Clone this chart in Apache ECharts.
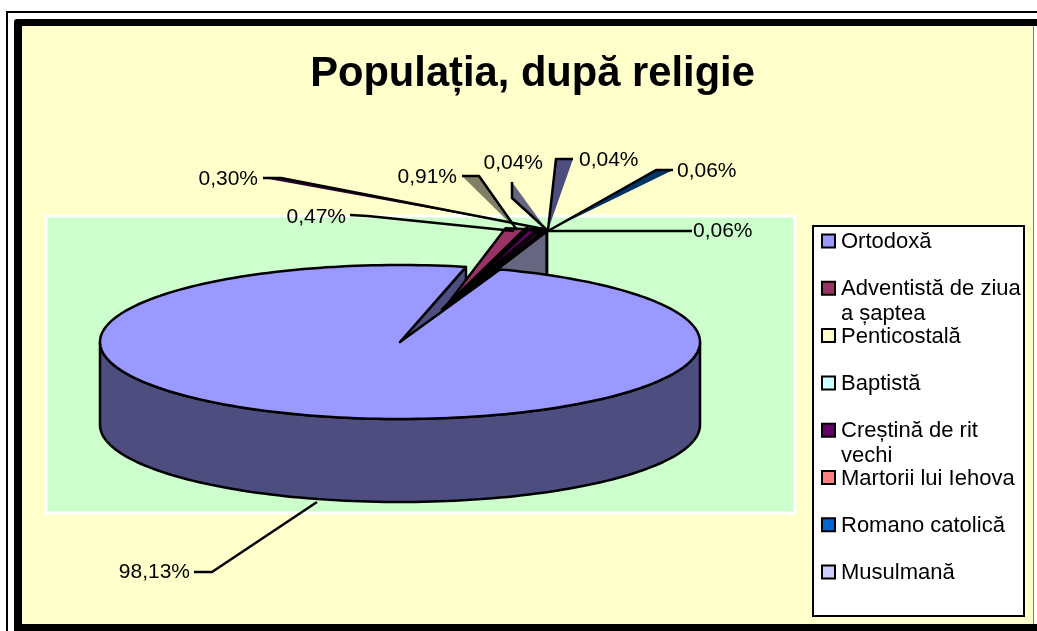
<!DOCTYPE html>
<html>
<head>
<meta charset="utf-8">
<style>html,body{margin:0;padding:0;background:#fff}#c{width:1037px;height:631px}</style>
<script src="https://cdn.jsdelivr.net/npm/echarts@6/dist/echarts.min.js"></script>
</head>
<body>
<div id="c"></div>
<script>
const title = 'Populația, după religie';
const categories = ['Ortodoxă','Adventistă de ziua\na șaptea','Penticostală','Baptistă','Creștină de rit\nvechi','Martorii lui Iehova','Romano catolică','Musulmană'];
const values = [98.13,0.91,0.04,0.06,0.47,0.30,0.06,0.04];
const colors = ['#9999FF','#993366','#FFFFCC','#CCFFFF','#660066','#FF8080','#0066CC','#CCCCFF'];
const sideColors = ['#4D4D80','#4D1A33','#808066','#668080','#330033','#804040','#003366','#666680'];

// layout of the 3D pie, in page pixels
const pie = {cx:400, cy:342, rx:300, ry:77, depth:83, endAngle:12.7};
const burst = {cx:443, cy:310, rx:360, ry:83, shift:-2.7};
// leader line routes [label end ... slice end] with optional filled sliver, and label anchors
const leaders = [
  {pts:[[194,572],[212,572],[317,502]], tx:190, ty:572, al:'right'},
  {pts:[[462,176],[479,176],[517,230]], fill:'#808066', tx:457, ty:177, al:'right'},
  {pts:[[573,159],[556,159],[548,230]], fill:'#4D4D80', tx:579, ty:160, al:'left'},
  {pts:[[692,231],[672,231],[548,231]], tx:693, ty:231, al:'left'},
  {pts:[[350,215],[368,216],[514,231]], tx:346, ty:217, al:'right'},
  {pts:[[263,178],[281,178],[544,229]], fill:'#330033', tx:258, ty:179, al:'right'},
  {pts:[[673,170],[656,170],[548,231]], fill:'#003366', tx:677, ty:171, al:'left'},
  {pts:[[512,182],[512,198],[546,229]], fill:'#666680', tx:543, ty:163, al:'right'}
];
const legendLayout = {x:822, y0:242, step:47.3, box:15, textX:841, lineHeight:25};

const total = values.reduce((a,b)=>a+b,0);
const rad = d => d*Math.PI/180;
function rimAngles(){
  // clockwise from the top of the ellipse; the first slice ends at pie.endAngle
  const out=[]; let a = pie.endAngle - values[0]/total*360;
  values.forEach(v=>{const s=v/total*360; out.push([a,a+s]); a+=s;});
  return out;
}
const angles = rimAngles();
const onRim = (e,d,dy=0)=>[e.cx+e.rx*Math.sin(rad(d)), e.cy-e.ry*Math.cos(rad(d))+dy];
function arc(e,a,b,dy=0){
  const pts=[], n=Math.max(2,Math.ceil(Math.abs(b-a)/1.5));
  for(let i=0;i<=n;i++) pts.push(onRim(e,a+(b-a)*i/n,dy));
  return pts;
}
const poly = (points,fill,z2,lw)=>({type:'polygon',z2,shape:{points},style:Object.assign({fill},lw?{stroke:'#000',lineWidth:lw,lineJoin:'round'}:{})});
const line = (points,z2)=>({type:'polyline',z2,shape:{points},style:{fill:'none',stroke:'#000',lineWidth:2.5,lineJoin:'round'}});

function renderSlice(params, api){
  const i = params.dataIndex;
  const [a,b] = angles[i];
  const kids = [];
  if(i===0){
    const top=[[pie.cx,pie.cy]].concat(arc(pie,a,b));
    const e=onRim(pie,b);
    kids.push(poly([[pie.cx,pie.cy],e,[e[0],e[1]+pie.depth],[pie.cx,pie.cy+pie.depth]], sideColors[0], 1, 2.5));
    kids.push(poly(arc(pie,90,270).concat(arc(pie,270,90,pie.depth)), sideColors[0], 2, 2.5));
    kids.push(poly(top, colors[0], 30, 2.5));
  } else {
    const ba=a+burst.shift, bb=b+burst.shift;
    const apex=[burst.cx,burst.cy];
    kids.push(poly([apex].concat(arc(burst,ba,bb)), colors[i], i===7?23:5+i, i===1?2.5:4));
    if(i===4||i===7){
      const r=onRim(burst,bb);
      kids.push(poly([apex,r,[r[0],r[1]+pie.depth],[apex[0],apex[1]+pie.depth]], sideColors[i], i===7?22:20, 3));
    }
  }
  const L=leaders[i];
  if(L.fill) kids.push(poly(L.pts,L.fill,40));
  kids.push(line(L.pts,41));
  const s=api.value(0).toFixed(2).replace('.',',')+'%';
  kids.push({type:'text',z2:50,style:{x:L.tx,y:L.ty,text:s,fill:'#000',align:L.al,verticalAlign:'middle',font:'21px "Liberation Sans"'}});
  return {type:'group',children:kids};
}
function renderLegend(params, api){
  const i=params.dataIndex, y=legendLayout.y0+i*legendLayout.step, b=legendLayout.box;
  return {type:'group',children:[
    {type:'rect',z2:60,shape:{x:legendLayout.x,y:y-b/2,width:b-2,height:b-2},style:{fill:colors[i],stroke:'#000',lineWidth:2}},
    {type:'text',z2:61,style:{x:legendLayout.textX,y:y-legendLayout.lineHeight/2,text:categories[i],fill:'#000',align:'left',verticalAlign:'top',lineHeight:legendLayout.lineHeight,font:'22px "Liberation Sans"'}}
  ]};
}

const chart = echarts.init(document.getElementById('c'),null,{renderer:'canvas'});
chart.setOption({
  animation:false,
  backgroundColor:'#fff',
  title:{text:title,left:527.5,top:49,textAlign:'center',textStyle:{fontFamily:'Liberation Sans',fontWeight:'bold',fontSize:41.7,color:'#000'}},
  grid:{left:0,right:0,top:0,bottom:0},
  xAxis:{type:'value',min:0,max:1037,show:false},
  yAxis:{type:'value',min:0,max:631,inverse:true,show:false},
  graphic:[
    {type:'rect',z:-11,shape:{x:7,y:12,width:1040,height:640},style:{fill:'#fff',stroke:'#000',lineWidth:2}},
    {type:'rect',z:-10,shape:{x:14,y:19,width:1030,height:620,r:3},style:{fill:'#000'}},
    {type:'rect',z:-10,shape:{x:1034,y:26,width:10,height:598},style:{fill:'#fff'}},
    {type:'rect',z:-9,shape:{x:22,y:26,width:1011,height:598},style:{fill:'#FFFFCC'}},
    {type:'rect',z:-9,shape:{x:1033,y:26,width:1,height:598},style:{fill:'#808066'}},
    {type:'rect',z:-8,shape:{x:46,y:216,width:749,height:297},style:{fill:'#CCFFCC',stroke:'#fff',lineWidth:3}},
    {type:'rect',z:-7,shape:{x:813,y:226,width:211,height:390},style:{fill:'#fff',stroke:'#000',lineWidth:2}}
  ],
  series:[
    {type:'custom',name:'Religie',clip:false,silent:true,renderItem:renderSlice,data:values.map((v,i)=>({name:categories[i],value:[v,i]}))},
    {type:'custom',name:'Legendă',clip:false,silent:true,renderItem:renderLegend,data:categories.map((c,i)=>({name:c,value:[0,i]}))}
  ]
});
</script>
</body>
</html>
